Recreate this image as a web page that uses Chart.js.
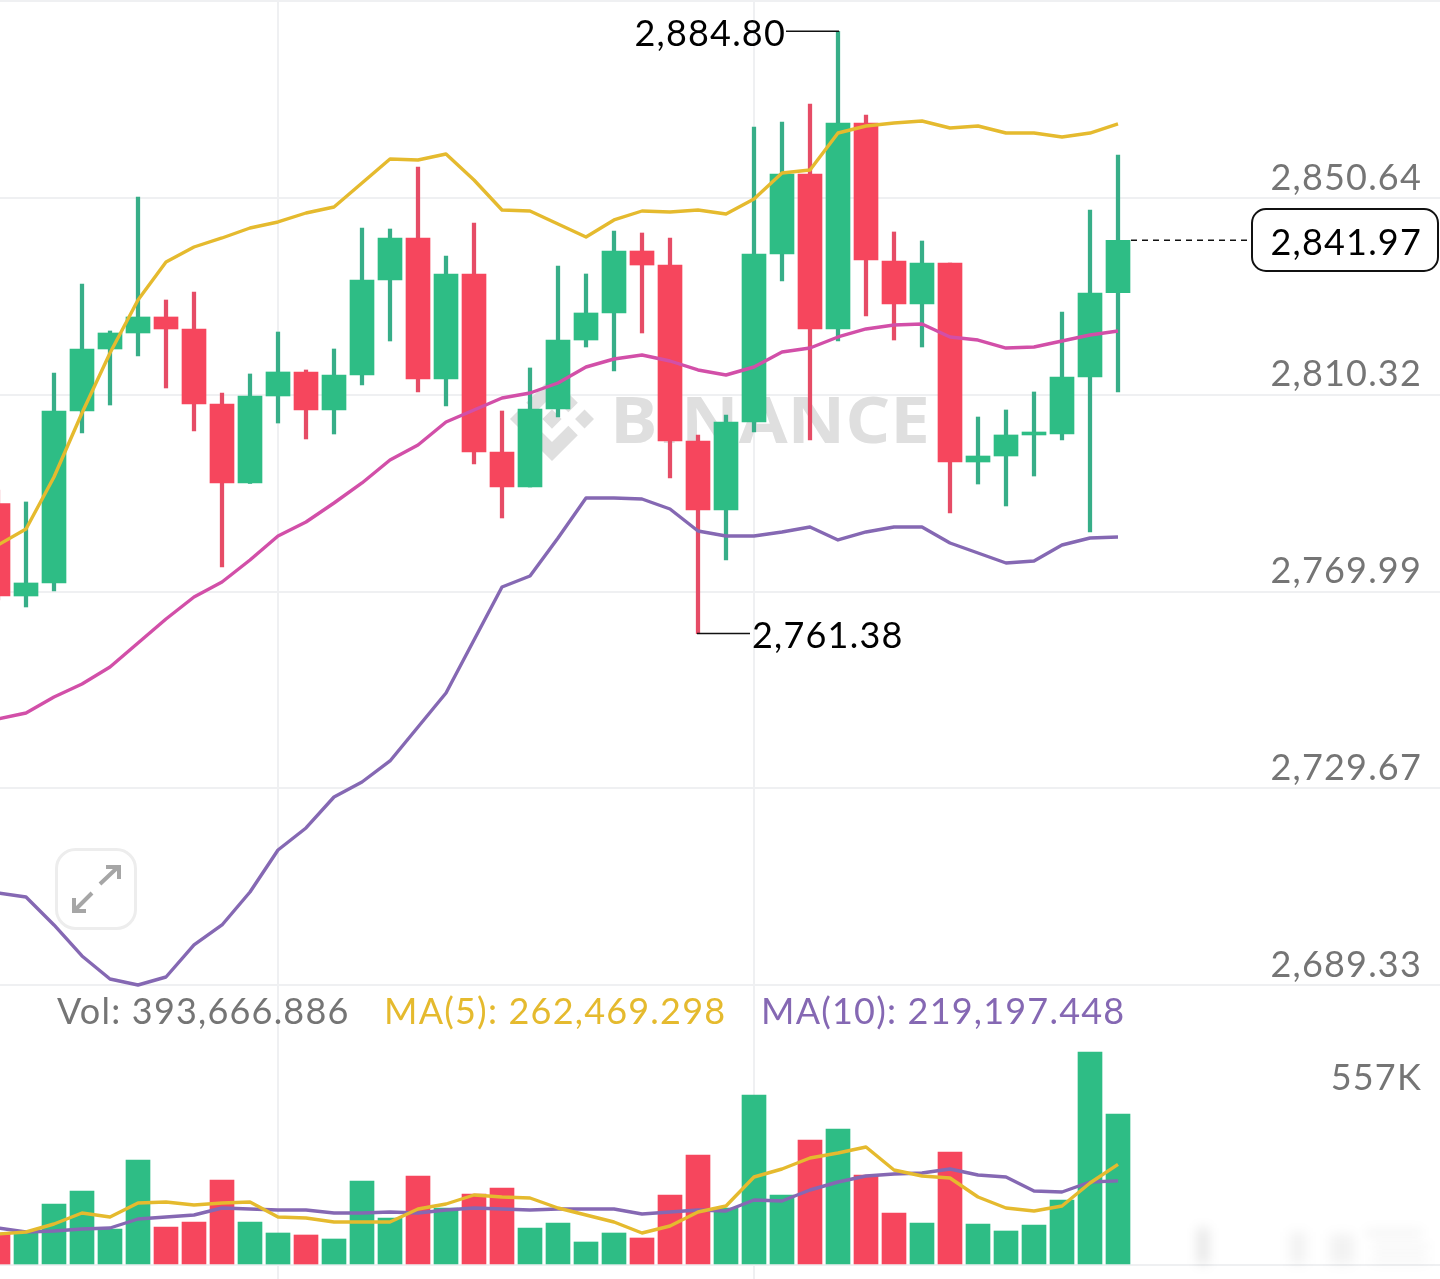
<!DOCTYPE html>
<html>
<head>
<meta charset="utf-8">
<style>
html,body{margin:0;padding:0;background:#fff;overflow:hidden}
canvas{display:block}
</style>
<script src="https://cdn.jsdelivr.net/npm/chart.js@4/dist/chart.umd.min.js"></script>
</head>
<body>
<canvas id="c" width="1440" height="1279"></canvas>
<script>
const opens=[2788.04,2769.08,2771.75,2806.99,2819.70,2822.98,2826.26,2823.80,2808.43,2792.24,2810.07,2814.99,2807.20,2814.37,2833.84,2842.45,2813.55,2835.07,2798.59,2791.42,2807.40,2821.54,2827.08,2839.78,2836.91,2800.85,2786.71,2804.74,2839.17,2855.56,2823.80,2866.01,2837.73,2828.92,2837.32,2796.54,2797.77,2802.08,2802.28,2813.96,2831.24];
const highs=[2790.80,2788.35,2814.78,2833.02,2823.39,2850.85,2829.74,2831.38,2810.68,2814.58,2823.18,2815.40,2819.70,2844.50,2844.29,2857.00,2838.76,2845.52,2806.99,2815.81,2836.71,2835.07,2843.88,2843.47,2842.45,2802.08,2806.17,2865.19,2866.22,2869.91,2884.80,2867.65,2843.68,2841.83,2837.32,2805.76,2807.20,2810.89,2827.28,2848.18,2859.46];
const lows=[2768.26,2766.83,2770.11,2802.49,2808.22,2818.26,2811.71,2802.90,2775.02,2792.14,2804.53,2801.26,2802.28,2812.32,2821.34,2810.89,2808.02,2796.13,2785.07,2791.42,2805.76,2820.11,2815.19,2822.98,2793.26,2761.38,2776.46,2802.69,2833.63,2801.05,2821.34,2826.46,2821.54,2820.11,2786.09,2792.03,2787.53,2793.67,2801.05,2782.20,2810.89];
const closes=[2769.08,2771.75,2806.99,2819.70,2822.98,2826.26,2823.80,2808.43,2792.24,2810.07,2814.99,2807.20,2814.37,2833.84,2842.45,2813.55,2835.07,2798.59,2791.42,2807.40,2821.54,2827.08,2839.78,2836.91,2800.85,2786.71,2804.74,2839.17,2855.56,2823.80,2866.01,2837.94,2828.92,2837.32,2796.54,2797.77,2802.08,2802.69,2813.96,2831.18,2841.97];
const bollUpper=[2779.53,2782.81,2793.47,2806.58,2818.88,2829.74,2837.53,2840.60,2842.45,2844.50,2845.73,2847.57,2848.80,2853.72,2858.64,2858.43,2859.66,2854.33,2848.18,2847.98,2845.32,2842.65,2846.14,2847.98,2847.77,2848.18,2847.36,2850.44,2855.77,2856.38,2863.96,2865.40,2866.01,2866.42,2864.99,2865.40,2863.96,2863.96,2863.14,2863.96,2865.81];
const bollMid=[2743.88,2745.10,2748.38,2751.05,2754.53,2759.45,2764.37,2768.88,2771.95,2776.46,2781.38,2784.25,2788.14,2792.24,2796.95,2800.03,2804.74,2807.20,2809.66,2810.68,2812.73,2816.01,2817.65,2818.47,2817.24,2815.40,2814.37,2816.01,2819.08,2819.90,2822.16,2823.80,2824.62,2824.82,2822.16,2821.54,2819.90,2820.11,2821.34,2822.57,2823.39];
const bollLower=[2708.22,2707.40,2701.66,2695.31,2690.59,2689.36,2691.00,2697.56,2701.66,2708.42,2717.03,2721.54,2727.89,2730.96,2735.27,2742.24,2749.20,2760.06,2770.93,2773.18,2780.97,2789.16,2789.16,2788.96,2786.91,2782.40,2781.38,2781.38,2782.20,2783.22,2780.56,2782.20,2783.22,2783.22,2779.94,2777.89,2775.84,2776.26,2779.53,2780.97,2781.17];
const volumes=[83424,83424,159027,192918,93852,273735,99066,112101,221595,112101,83424,78210,67782,218988,122529,232023,148599,185097,200739,96459,109494,59961,83424,70389,182490,286770,148599,443190,182490,325875,354552,234630,135564,109494,294591,106887,88638,104280,169455,555291,393666.886];
const volMA5=[80817,86031,106887,135564,125136,161634,164241,156420,161634,164241,125136,122529,112101,112101,112101,145992,159027,182490,177276,174669,148599,130350,112101,83424,101673,138171,153813,229416,250272,278949,291984,307626,247665,232023,226809,177276,148599,140778,153813,213774,262469.298];
const volMA10=[96459,86031,88638,93852,96459,119922,125136,130350,148599,145992,143385,143385,135564,135564,138171,135564,143385,148599,145992,143385,145992,145992,145992,132957,138171,143385,140778,169455,166848,195525,216381,232023,237237,239844,250272,234630,229416,192918,190311,216381,219197.448];
const priceTicks=[2689.33,2729.67,2769.99,2810.32,2850.64,2890.96];
const priceTickLabels=['2,689.33','2,729.67','2,769.99','2,810.32','2,850.64',''];
const volTicks=[0,557000];
const volTickLabels=['','557K'];
const xGridAt=[10,27];
const highLabel='2,884.80', lowLabel='2,761.38', lastLabel='2,841.97';
const legendVol='Vol: 393,666.886', legendMA5='MA(5): 262,469.298', legendMA10='MA(10): 219,197.448';

const UP='#2EBD85',DOWN='#F6465D',UPW='#37AE88',DOWNW='#E64C66';
const YEL='#E5BA2E',MAG='#D24FA8',PUR='#8568B3',GRID='#EFF0F2',GRAY='#757575';
const FONT='Lato, "Open Sans", sans-serif';
const SPACING='1.2px';
const idx=opens.map((_,i)=>i);
const isUp=idx.map(i=>closes[i]>=opens[i]);
const pts=a=>a.map((v,i)=>({x:i,y:v}));
const lineDs=(data,color,yAxisID)=>({type:'line',data:pts(data),yAxisID,borderColor:color,borderWidth:3.4,pointRadius:0,tension:0,order:1,borderJoinStyle:'round',borderCapStyle:'butt'});

const overlay={
  id:'overlay',
  beforeDraw(ch){ch.ctx.letterSpacing=SPACING;},
  beforeDatasetsDraw(ch){
    const c=ch.ctx;c.save();
    c.letterSpacing='0px';
    c.fillStyle='#DFDFDF';
    const logo=new Path2D('M12.116 14.404L16 10.52l3.886 3.886 2.26-2.26L16 6l-6.144 6.144 2.26 2.26zM6 16l2.26-2.26L10.52 16l-2.26 2.26L6 16zm6.116 1.596L16 21.48l3.886-3.886 2.26 2.259L16 26l-6.144-6.144-.003-.003 2.263-2.257zM21.48 16l2.26-2.26L26 16l-2.26 2.26L21.48 16zm-3.188-.002h.002V16L16 18.294l-2.291-2.29-.004-.004.004-.003.401-.402.195-.195L16 13.706l2.293 2.293z');
    c.save();c.translate(552,419);c.scale(4.2,4.2);c.translate(-16,-16);c.fill(logo);c.restore();
    c.font='bold 64px "Open Sans", sans-serif';c.textBaseline='alphabetic';c.textAlign='left';
    const w=c.measureText('BINANCE').width;
    c.save();c.translate(610,443);c.scale(320/w,1);c.fillText('BINANCE',0,0);c.restore();
    c.restore();
  },
  afterDraw(ch){
    const c=ch.ctx,x=ch.scales.x,y=ch.scales.y;c.save();
    const hi=y.getPixelForValue(highs[30]),lo=y.getPixelForValue(lows[25]),la=y.getPixelForValue(closes[40]);
    c.strokeStyle='#111';c.lineWidth=1.5;
    c.beginPath();c.moveTo(786,hi);c.lineTo(x.getPixelForValue(30)+1,hi);c.stroke();
    c.beginPath();c.moveTo(x.getPixelForValue(25)-1,lo);c.lineTo(750,lo);c.stroke();
    c.lineWidth=1.5;c.setLineDash([6,5]);
    c.beginPath();c.moveTo(1131,la);c.lineTo(1252,la);c.stroke();c.setLineDash([]);
    c.lineWidth=2;c.beginPath();c.roundRect(1252,209,186,62,14);c.fillStyle='#fff';c.fill();c.stroke();
    c.font='36px '+FONT;c.letterSpacing=SPACING;c.textBaseline='middle';c.fillStyle='#000';
    c.textAlign='right';c.fillText(highLabel,786,34);c.fillText(lastLabel,1422,243);
    c.textAlign='left';c.fillText(lowLabel,752,636);
    c.fillStyle=GRAY;c.fillText(legendVol,57,1012);
    c.fillStyle=YEL;c.fillText(legendMA5,384,1012);
    c.fillStyle=PUR;c.fillText(legendMA10,761,1012);
    /* expand button */
    c.strokeStyle='#EDEDED';c.lineWidth=3;c.beginPath();c.roundRect(56.5,849.5,79,79,19);c.stroke();
    c.strokeStyle='#A6A6A6';c.lineWidth=4;
    c.beginPath();c.moveTo(100,884);c.lineTo(118,867);c.moveTo(106,867);c.lineTo(119,867);c.lineTo(119,879);c.stroke();
    c.beginPath();c.moveTo(92,893);c.lineTo(74,911);c.moveTo(74,898);c.lineTo(74,911);c.lineTo(86,911);c.stroke();
    /* blurred corner mark */
    c.filter='blur(6px)';c.fillStyle='rgba(0,0,0,.11)';
    c.fillRect(1198,1228,10,36);c.fillStyle='rgba(0,0,0,.05)';
    c.fillRect(1290,1232,16,32);c.fillRect(1330,1234,24,30);c.fillRect(1366,1230,56,7);c.fillRect(1372,1244,56,6);c.fillRect(1372,1256,56,6);
    c.filter='none';
    c.restore();
  }
};

new Chart(document.getElementById('c'),{
  data:{datasets:[
    lineDs(bollUpper,YEL,'y'),lineDs(bollMid,MAG,'y'),lineDs(bollLower,PUR,'y'),
    lineDs(volMA5,YEL,'yVol'),lineDs(volMA10,PUR,'yVol'),
    {type:'bar',yAxisID:'y',order:20,grouped:false,barPercentage:1,categoryPercentage:1,maxBarThickness:24,data:idx.map(i=>({x:i,y:[opens[i],closes[i]]})),backgroundColor:idx.map(i=>isUp[i]?UP:DOWN)},
    {type:'bar',yAxisID:'y',order:30,grouped:false,barPercentage:1,categoryPercentage:1,maxBarThickness:3.6,data:idx.map(i=>({x:i,y:[lows[i],highs[i]]})),backgroundColor:idx.map(i=>isUp[i]?UPW:DOWNW)},
    {type:'bar',yAxisID:'yVol',order:40,grouped:false,barPercentage:1,categoryPercentage:1,maxBarThickness:24,data:pts(volumes),backgroundColor:idx.map(i=>isUp[i]?UP:DOWN)}
  ]},
  options:{
    responsive:false,animation:false,devicePixelRatio:1,
    layout:{padding:0},
    plugins:{legend:{display:false},tooltip:{enabled:false}},
    scales:{
      x:{type:'linear',min:0.0714286,max:51.5,offset:false,border:{display:false},
        grid:{color:GRID,lineWidth:2,drawTicks:false,offset:false},ticks:{display:false},
        afterBuildTicks(s){s.ticks=xGridAt.map(v=>({value:v}));}},
      y:{type:'linear',position:'right',min:2629.11,max:2891.22,border:{display:false},
        grid:{color:GRID,lineWidth:2,drawTicks:false},
        ticks:{mirror:true,padding:-18,labelOffset:-20,autoSkip:false,color:GRAY,font:{family:FONT,size:36},
          callback:v=>{const k=priceTicks.indexOf(v);return k<0?'':priceTickLabels[k];}},
        afterBuildTicks(s){s.ticks=priceTicks.map(v=>({value:v}));},
        afterFit(s){s.paddingTop=0;s.paddingBottom=0;s.width=0;}},
      yVol:{type:'linear',position:'right',min:-36498,max:3297855,border:{display:false},
        grid:{color:c=>c.tick&&c.tick.value===0?GRID:'rgba(0,0,0,0)',lineWidth:2,drawTicks:false},
        ticks:{mirror:true,padding:-18,labelOffset:27,autoSkip:false,color:GRAY,font:{family:FONT,size:36},
          callback:v=>{const k=volTicks.indexOf(v);return k<0?'':volTickLabels[k];}},
        afterBuildTicks(s){s.ticks=volTicks.map(v=>({value:v}));},
        afterFit(s){s.paddingTop=0;s.paddingBottom=0;s.width=0;}}
    }
  },
  plugins:[overlay]
});
</script>
</body>
</html>
